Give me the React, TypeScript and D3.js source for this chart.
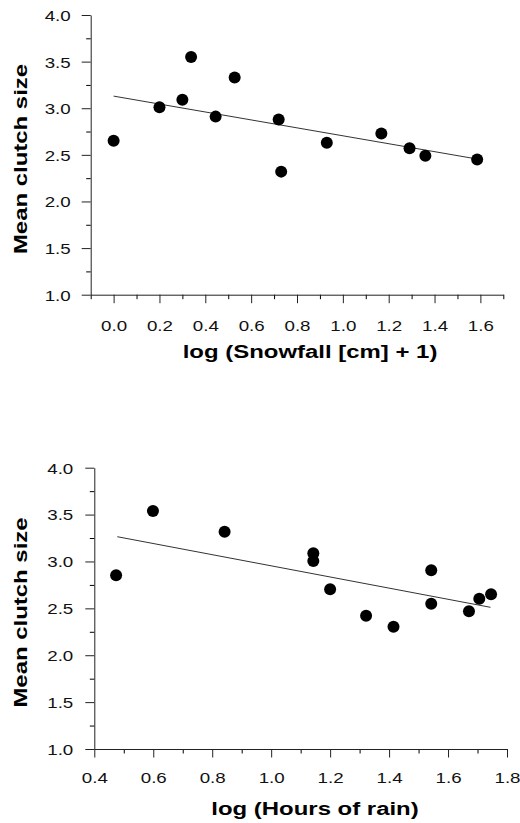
import React, { useEffect, useRef } from "react";
import * as d3 from "d3";

// top panel: snowfall
const snowX = [0.0, 0.2, 0.3, 0.338, 0.445, 0.528, 0.72, 0.731, 0.93, 1.168, 1.291, 1.36, 1.586];
const snowY = [2.65, 3.01, 3.09, 3.55, 2.91, 3.33, 2.88, 2.32, 2.63, 2.73, 2.57, 2.49, 2.45];
const snowLineX = [0.0, 1.586];
const snowLineY = [3.13, 2.455];
const snowXTicks = [0.0, 0.2, 0.4, 0.6, 0.8, 1.0, 1.2, 1.4, 1.6];
const snowXMinor = [-0.1, 0.1, 0.3, 0.5, 0.7, 0.9, 1.1, 1.3, 1.5, 1.7];

// bottom panel: rain
const rainX = [0.474, 0.599, 0.842, 1.143, 1.143, 1.2, 1.322, 1.415, 1.543, 1.543, 1.671, 1.706, 1.746];
const rainY = [2.853, 3.538, 3.318, 3.087, 3.005, 2.703, 2.422, 2.305, 2.906, 2.55, 2.469, 2.603, 2.65];
const rainLineX = [0.478, 1.744];
const rainLineY = [3.264, 2.511];
const rainXTicks = [0.4, 0.6, 0.8, 1.0, 1.2, 1.4, 1.6, 1.8];
const rainXMinor = [0.5, 0.7, 0.9, 1.1, 1.3, 1.5, 1.7];

// shared y ticks
const yTicks = [1.0, 1.5, 2.0, 2.5, 3.0, 3.5, 4.0];
const yMinor = [1.25, 1.75, 2.25, 2.75, 3.25, 3.75];

const yTitle = "Mean clutch size";
const snowTitle = "log (Snowfall [cm] + 1)";
const rainTitle = "log (Hours of rain)";

const FONT = "'Liberation Sans', Arial, Helvetica, sans-serif";
const SX_TICK = 1.25;
const SX_TITLE = 1.26;

function drawPanel(svg, o) {
    const x = d3.scaleLinear().domain(o.xDomain).range(o.xRange);
    const y = d3.scaleLinear().domain([1, 4]).range(o.yRange);
    const g = svg.append("g");

    // minor ticks first
    g.append("g")
        .attr("transform", `translate(0, ${o.yRange[0]})`)
        .call(d3.axisBottom(x).tickValues(o.xMinor).tickSize(4.5).tickFormat(() => "").tickSizeOuter(0))
        .call(a => a.select(".domain").remove());
    g.append("g")
        .attr("transform", `translate(${o.xRange[0]}, 0)`)
        .call(d3.axisLeft(y).tickValues(yMinor).tickSize(4.5).tickFormat(() => "").tickSizeOuter(0))
        .call(a => a.select(".domain").remove());

    // x axis
    const xa = g.append("g")
        .attr("transform", `translate(0, ${o.yRange[0]})`)
        .call(d3.axisBottom(x).tickValues(o.xTicks).tickSize(8.5).tickSizeOuter(0).tickFormat(d3.format(".1f")));
    xa.selectAll("text")
        .attr("y", o.xLabelGap)
        .attr("dy", 0)
        .attr("transform", `scale(${SX_TICK},1)`);

    // y axis
    const ya = g.append("g")
        .attr("transform", `translate(${o.xRange[0]}, 0)`)
        .call(d3.axisLeft(y).tickValues(yTicks).tickSize(9).tickSizeOuter(0).tickFormat(d3.format(".1f")));
    ya.selectAll("text")
        .attr("x", -o.yLabelGap / SX_TICK)
        .attr("dy", "0.36em")
        .attr("transform", `scale(${SX_TICK},1)`);

    [xa, ya].forEach(a => {
        a.selectAll("path, line").attr("stroke", "#222").attr("stroke-width", 1);
        a.selectAll("text").style("font-family", FONT).style("font-size", "15px").attr("fill", "#111");
    });

    // fitted line
    g.append("path")
        .datum(o.lineX.map((v, i) => [v, o.lineY[i]]))
        .attr("fill", "none")
        .attr("stroke", "#333")
        .attr("stroke-width", 1)
        .attr("d", d3.line().x(d => x(d[0])).y(d => y(d[1])));

    // points
    g.selectAll(".dot")
        .data(o.px.map((v, i) => [v, o.py[i]]))
        .enter()
        .append("circle")
        .attr("cx", d => x(d[0]))
        .attr("cy", d => y(d[1]))
        .attr("r", 6)
        .attr("fill", "#000");

    // x title
    g.append("g")
        .attr("transform", `translate(${o.xTitleX}, ${o.xTitleY})`)
        .append("text")
        .attr("transform", `scale(${SX_TITLE},1)`)
        .attr("text-anchor", "middle")
        .style("font-family", FONT)
        .style("font-size", "19px")
        .style("font-weight", "bold")
        .text(o.xTitle);

    // y title
    g.append("g")
        .attr("transform", `translate(${o.yTitleX}, ${o.yTitleY}) rotate(-90)`)
        .append("text")
        .attr("transform", `scale(${SX_TITLE},1)`)
        .attr("text-anchor", "middle")
        .style("font-family", FONT)
        .style("font-size", "19px")
        .style("font-weight", "bold")
        .text(yTitle);
}

const App = () => {
    const svgRef = useRef(null);

    useEffect(() => {
        const svg = d3.select(svgRef.current);
        svg.selectAll("*").remove();

        drawPanel(svg, {
            xDomain: [-0.1, 1.7], xRange: [90.7, 503.3], yRange: [294.7, 15],
            xTicks: snowXTicks, xMinor: snowXMinor,
            px: snowX, py: snowY, lineX: snowLineX, lineY: snowLineY,
            xLabelGap: 36, yLabelGap: 20,
            xTitle: snowTitle, xTitleX: 310, xTitleY: 358,
            yTitleX: 27, yTitleY: 159,
        });

        drawPanel(svg, {
            xDomain: [0.4, 1.8], xRange: [94.3, 507], yRange: [749, 467.7],
            xTicks: rainXTicks, xMinor: rainXMinor,
            px: rainX, py: rainY, lineX: rainLineX, lineY: rainLineY,
            xLabelGap: 34, yLabelGap: 21,
            xTitle: rainTitle, xTitleX: 315, xTitleY: 815,
            yTitleX: 27, yTitleY: 612.5,
        });
    }, []);

    return (
        <svg
            ref={svgRef}
            width={520}
            height={823}
            style={{ position: "absolute", left: 0, top: 0, background: "#fff" }}
        />
    );
};

export default App;
